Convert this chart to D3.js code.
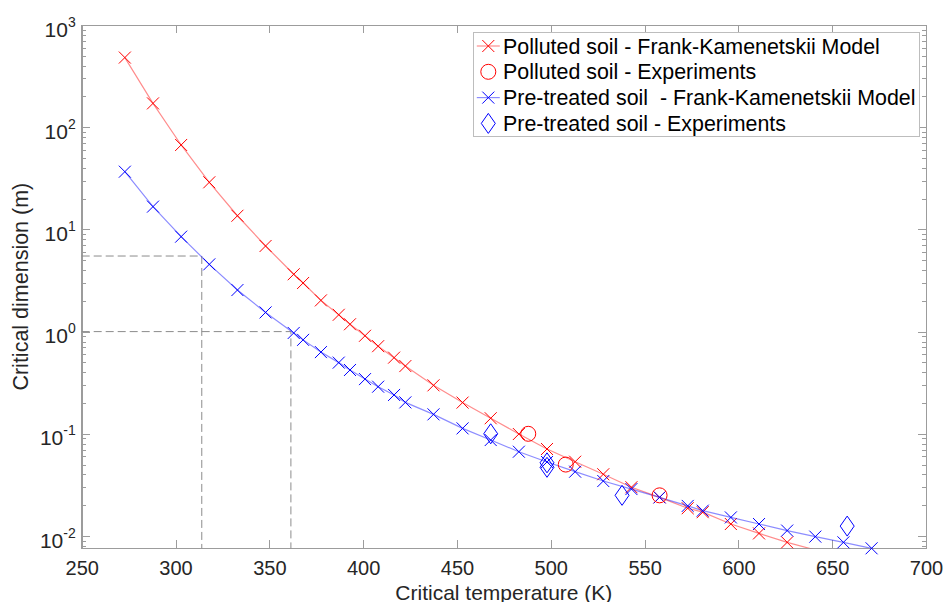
<!DOCTYPE html>
<html lang="en">
<head>
    <meta charset="UTF-8">
    <script src="https://d3js.org/d3.v7.min.js"></script>
    <title>Critical dimension vs critical temperature</title>
    <style>
        body { margin: 0; background: #fff; }
        svg { font-family: "Liberation Sans", Arial, Helvetica, sans-serif; }
        .axis path, .axis line { fill: none; stroke: #9c9c9c; shape-rendering: crispEdges; }
        .axis text { fill: #262626; font-size: 20px; }
    </style>
</head>
<body>
    <script>
        // temperatures (K) of the model points
        var temps = [273, 288, 303, 318, 333, 348, 363, 368, 377.5, 387, 393, 401, 408, 416.5, 422.5,
            437.5, 453, 468, 483, 498, 513, 528, 543, 558, 573, 581, 596, 611, 626, 641, 656, 671]
        // polluted soil, Frank-Kamenetskii model (m)
        var pollutedModel = [480, 171, 67, 28.9, 13.6, 6.88, 3.64, 2.99, 2.02, 1.46, 1.18, 0.91, 0.72, 0.556, 0.46,
            0.298, 0.202, 0.142, 0.0995, 0.071, 0.0533, 0.0402, 0.030, 0.0239, 0.0187, 0.0171, 0.0131, 0.0106, 0.00867, 0.0073]
        // pre-treated soil, Frank-Kamenetskii model (m)
        var treatedModel = [36.7, 16.7, 8.49, 4.55, 2.55, 1.54, 0.97, 0.83, 0.63, 0.497, 0.421, 0.343, 0.289, 0.24, 0.203,
            0.155, 0.113, 0.0869, 0.0668, 0.053, 0.0426, 0.0345, 0.0288, 0.0239, 0.0197, 0.0177, 0.0152, 0.0131, 0.0113, 0.00986, 0.00867, 0.00758]
        // experiments
        var pollutedExpT = [488, 508, 558]
        var pollutedExpD = [0.1, 0.05, 0.025]
        var treatedExpT = [468, 498, 498, 538, 658]
        var treatedExpD = [0.1, 0.052, 0.047, 0.025, 0.0125]
        // dashed reading guides
        var guideT = [314, 361.5]
        var guideD = [5.49, 1.0]

        var xTicks = [250, 300, 350, 400, 450, 500, 550, 600, 650, 700]
        var yTicks = [1e-2, 1e-1, 1e0, 1e1, 1e2, 1e3]
        var legendLabels = ["Polluted soil - Frank-Kamenetskii Model", "Polluted soil - Experiments",
            "Pre-treated soil  - Frank-Kamenetskii Model", "Pre-treated soil - Experiments"]

        var width = 945
        var height = 602
        var padding = { top: 25, right: 19, bottom: 53.7, left: 81.7 }
        var red = "#ff0000", blue = "#0000ff"

        var svg = d3.select("body").append("svg")
            .attr("width", width)
            .attr("height", height)

        var xScale = d3.scaleLinear()
            .domain([250, 700])
            .range([padding.left, width - padding.right])
        var yScale = d3.scaleLog()
            .domain([0.00758, 1000])
            .range([height - padding.bottom, padding.top])

        var x0 = xScale.range()[0], x1 = xScale.range()[1]
        var yB = yScale.range()[0], yT = yScale.range()[1]

        svg.append("clipPath").attr("id", "plotClip")
            .append("rect").attr("x", x0).attr("y", yT).attr("width", x1 - x0).attr("height", yB - yT)

        // minor ticks for the log axis
        var minor = []
        for (var e = -3; e < 3; e++) {
            for (var m = 2; m < 10; m++) {
                var v = m * Math.pow(10, e)
                if (v >= yScale.domain()[0] && v <= yScale.domain()[1]) minor.push(v)
            }
        }

        // axes
        svg.append("g").attr("class", "axis")
            .attr("transform", "translate(0," + yB + ")")
            .call(d3.axisBottom(xScale).tickValues(xTicks).tickSize(-8).tickSizeOuter(0).tickPadding(12.5))
        svg.append("g").attr("class", "axis")
            .attr("transform", "translate(0," + yT + ")")
            .call(d3.axisTop(xScale).tickValues(xTicks).tickSize(-8).tickSizeOuter(0).tickFormat(""))

        var yAxisG = svg.append("g").attr("class", "axis")
            .attr("transform", "translate(" + x0 + ",0)")
            .call(d3.axisLeft(yScale).tickValues(yTicks).tickSize(-8).tickSizeOuter(0))
        svg.append("g").attr("class", "axis")
            .attr("transform", "translate(" + x0 + ",0)")
            .call(d3.axisLeft(yScale).tickValues(minor).tickSize(-4).tickSizeOuter(0).tickFormat(""))
        svg.append("g").attr("class", "axis")
            .attr("transform", "translate(" + x1 + ",0)")
            .call(d3.axisRight(yScale).tickValues(yTicks).tickSize(-8).tickSizeOuter(0).tickFormat(""))
        svg.append("g").attr("class", "axis")
            .attr("transform", "translate(" + x1 + ",0)")
            .call(d3.axisRight(yScale).tickValues(minor).tickSize(-4).tickSizeOuter(0).tickFormat(""))

        // y labels as 10 with superscript exponent
        yAxisG.selectAll(".tick text").each(function (d) {
            var t = d3.select(this).text(null)
                .attr("x", -6).attr("dy", null).attr("y", 11)
                .style("font-size", "21px")
            t.append("tspan").text("10")
            t.append("tspan").text(Math.round(Math.log10(d)))
                .attr("dy", -10).style("font-size", "14px")
        })

        svg.append("rect")
            .attr("x", x0).attr("y", yT).attr("width", x1 - x0).attr("height", yB - yT)
            .attr("fill", "none").attr("stroke", "#9c9c9c").attr("shape-rendering", "crispEdges")

        // axis titles
        svg.append("text")
            .attr("x", (x0 + x1) / 2).attr("y", 599.5)
            .attr("text-anchor", "middle").attr("fill", "#262626").style("font-size", "21px")
            .text("Critical temperature (K)")
        svg.append("text")
            .attr("transform", "translate(28," + (yT + yB) / 2 + ") rotate(-90)")
            .attr("text-anchor", "middle").attr("fill", "#262626").style("font-size", "21.5px")
            .text("Critical dimension (m)")

        // dashed guides
        var guides = svg.append("g").attr("fill", "none").attr("stroke", "#8c8c8c")
            .attr("stroke-width", 1).attr("stroke-dasharray", "8,4")
        guideT.forEach(function (t, i) {
            guides.append("path")
                .attr("d", "M" + x0 + "," + yScale(guideD[i]) + "H" + xScale(t) + "V" + yB)
        })

        var plot = svg.append("g")

        function crossPath(s) {
            return "M" + -s + "," + -s + "L" + s + "," + s + "M" + -s + "," + s + "L" + s + "," + -s
        }

        function drawModel(values, color) {
            var pts = values.map(function (v, i) { return [temps[i], v] })
            var line = d3.line()
                .x(function (d) { return xScale(d[0]) })
                .y(function (d) { return yScale(d[1]) })
            plot.append("path")
                .attr("clip-path", "url(#plotClip)")
                .attr("d", line(pts))
                .attr("fill", "none").attr("stroke", color)
                .attr("stroke-opacity", 0.45).attr("stroke-width", 1.2)
            plot.selectAll(null)
                .data(pts.filter(function (d) { return d[1] >= yScale.domain()[0] }))
                .enter().append("path")
                .attr("transform", function (d) { return "translate(" + xScale(d[0]) + "," + yScale(d[1]) + ")" })
                .attr("d", crossPath(6))
                .attr("fill", "none").attr("stroke", color).attr("stroke-width", 1)
        }

        drawModel(pollutedModel, red)
        drawModel(treatedModel, blue)

        plot.selectAll(null)
            .data(pollutedExpT)
            .enter().append("circle")
            .attr("cx", function (d) { return xScale(d) })
            .attr("cy", function (d, i) { return yScale(pollutedExpD[i]) })
            .attr("r", 7.5)
            .attr("fill", "none").attr("stroke", red).attr("stroke-width", 1)

        var diamond = "M0,-10L7,0L0,10L-7,0Z"
        plot.selectAll(null)
            .data(treatedExpT)
            .enter().append("path")
            .attr("transform", function (d, i) { return "translate(" + xScale(d) + "," + yScale(treatedExpD[i]) + ")" })
            .attr("d", diamond)
            .attr("fill", "none").attr("stroke", blue).attr("stroke-width", 1)

        // legend
        var lg = svg.append("g")
        lg.append("rect")
            .attr("x", 473.3).attr("y", 32.3).attr("width", 445.7).attr("height", 104.4)
            .attr("fill", "#fff").attr("stroke", "#bdbdbd").attr("shape-rendering", "crispEdges")
        legendLabels.forEach(function (label, i) {
            var cy = 46 + i * 25.8
            var color = i < 2 ? red : blue
            var sym = lg.append("g").attr("transform", "translate(488.3," + cy + ")")
            if (i % 2 === 0) {
                sym.append("line").attr("x1", -11.5).attr("x2", 11.5)
                    .attr("stroke", color).attr("stroke-opacity", 0.45).attr("stroke-width", 1.2)
                sym.append("path").attr("d", crossPath(6)).attr("fill", "none").attr("stroke", color)
            } else if (i === 1) {
                sym.append("circle").attr("r", 7.5).attr("fill", "none").attr("stroke", color)
            } else {
                sym.append("path").attr("d", diamond).attr("fill", "none").attr("stroke", color)
            }
            lg.append("text")
                .attr("x", 503).attr("y", cy + 7.5)
                .attr("fill", "#000").style("font-size", "21.4px").style("white-space", "pre")
                .text(label)
        })
    </script>
</body>
</html>
